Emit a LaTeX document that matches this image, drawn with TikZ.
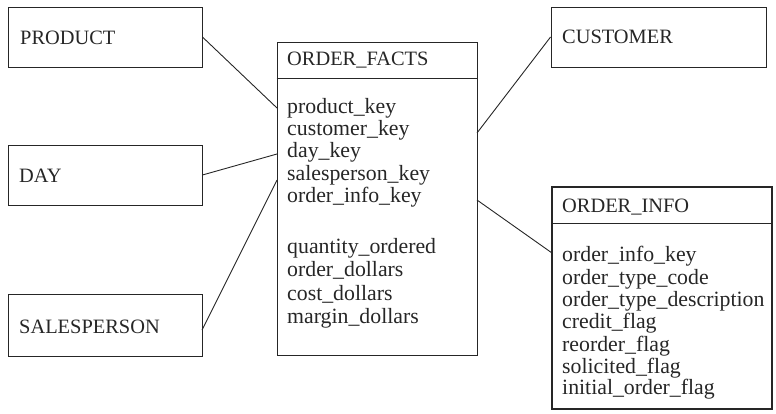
\documentclass[tikz,border=0pt]{standalone}
\usepackage{fontspec}
\setmainfont{Liberation Serif}
\begin{document}
\begin{tikzpicture}[x=1pt,y=-1pt,
  ink/.style={draw=black!85},
  tablebox/.style={ink,line width=0.9pt,rectangle,inner sep=0pt},
  thickbox/.style={ink,line width=1.9pt,rectangle,inner sep=0pt},
  link/.style={draw=black!85,line width=0.9pt},
  lbl/.style={anchor=base west,inner sep=0pt,text=black!85,font=\fontsize{21.8}{24}\selectfont},
  caplbl/.style={lbl,font=\fontsize{20.4}{24}\selectfont}]
\useasboundingbox (0,0) rectangle (776,414);

% dimension tables
\node[tablebox,minimum width=194pt,minimum height=60pt] (product) at (105,37) {};
\node[tablebox,minimum width=194pt,minimum height=60pt] (day) at (105,175) {};
\node[tablebox,minimum width=194pt,minimum height=62pt] (sales) at (105,325) {};
\node[tablebox,minimum width=215pt,minimum height=60pt] (customer) at (658.5,37) {};
\node[caplbl] (tproduct) at (20,45) {PRODUCT};
\node[caplbl] (tday) at (19,183) {DAY};
\node[caplbl] (tsales) at (19,333) {SALESPERSON};
\node[caplbl] (tcustomer) at (562,44) {CUSTOMER};

% fact table
\node[tablebox,minimum width=200pt,minimum height=313pt] (facts) at (377,198.5) {};
\coordinate (fdiv) at (0,78);
\draw[link] (facts.west |- fdiv) -- (facts.east |- fdiv);
\node[caplbl] (tfacts) at (287,66) {ORDER\_FACTS};
\node[lbl] (k1) at (287,114) {product\_key};
\node[lbl] (k2) at (287,136) {customer\_key};
\node[lbl] (k3) at (287,158) {day\_key};
\node[lbl] (k4) at (287,181) {salesperson\_key};
\node[lbl] (k5) at (287,203) {order\_info\_key};
\node[lbl] (m1) at (287,253) {quantity\_ordered};
\node[lbl] (m2) at (287,276) {order\_dollars};
\node[lbl] (m3) at (287,300) {cost\_dollars};
\node[lbl] (m4) at (287,323) {margin\_dollars};

% order info table
\node[thickbox,minimum width=220pt,minimum height=222pt] (info) at (662,298) {};
\coordinate (idiv) at (0,223);
\draw[link] (info.west |- idiv) -- (info.east |- idiv);
\node[caplbl] (tinfo) at (562,212) {ORDER\_INFO};
\node[lbl] (i1) at (562,261) {order\_info\_key};
\node[lbl] (i2) at (562,284) {order\_type\_code};
\node[lbl] (i3) at (562,306) {order\_type\_description};
\node[lbl] (i4) at (562,328) {credit\_flag};
\node[lbl] (i5) at (562,351) {reorder\_flag};
\node[lbl] (i6) at (562,373) {solicited\_flag};
\node[lbl] (i7) at (562,394) {initial\_order\_flag};

% attachment points on the table edges
\coordinate (fprod) at (277,108);
\coordinate (fday) at (277,154);
\coordinate (fsales) at (277,180);
\coordinate (fcust) at (477,133);
\coordinate (finfo) at (477,200);
\coordinate (iin) at (552,253);
\coordinate (sout) at (202,330);

% connectors
\draw[link] (product.east) -- (fprod);
\draw[link] (day.east) -- (fday);
\draw[link] (sout) -- (fsales);
\draw[link] (customer.west) -- (fcust);
\draw[link] (finfo) -- (iin);
\end{tikzpicture}
\end{document}
